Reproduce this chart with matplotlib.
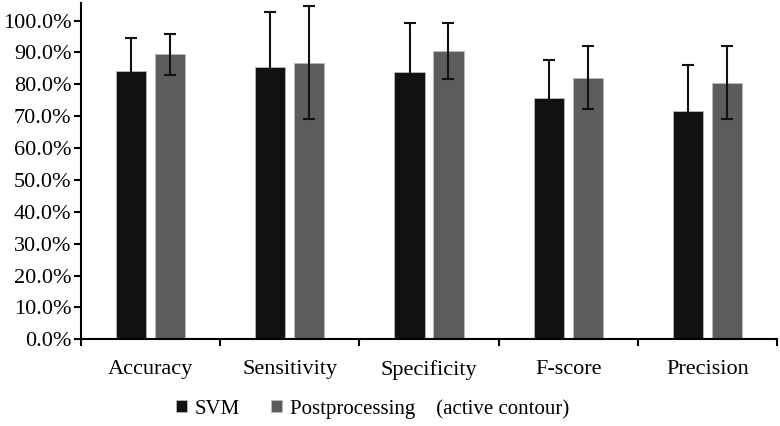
import matplotlib.pyplot as plt
import numpy as np
from matplotlib.patches import Patch
from matplotlib.ticker import PercentFormatter

categories = ["Accuracy", "Sensitivity", "Specificity", "F-score", "Precision"]
svm = [0.841, 0.853, 0.837, 0.758, 0.717]
svm_err = [0.103, 0.175, 0.155, 0.119, 0.145]
post = [0.894, 0.868, 0.905, 0.821, 0.805]
post_err = [0.065, 0.177, 0.088, 0.099, 0.115]
series_names = ["SVM", "Postprocessing    (active contour)"]

plt.rcParams['font.family'] = ['Liberation Serif', 'DejaVu Serif']

fig = plt.figure(figsize=(7.8, 4.26), dpi=100)
ax = fig.add_axes([0.104, 0.2035, 0.892, 0.7895])

x = np.arange(len(categories))
w = 0.216
off = 0.14
ekw = dict(ecolor="#111111", elinewidth=1.5, capsize=4, capthick=1.5)
ax.bar(x - off, svm, w, color="#111111", edgecolor="#bbbbbb", linewidth=0.6,
       yerr=svm_err, error_kw=ekw)
ax.bar(x + off, post, w, color="#5c5c5c", edgecolor="#bbbbbb", linewidth=0.6,
       yerr=post_err, error_kw=ekw)

ax.set_xlim(-0.5, len(categories) - 0.5)
ax.set_ylim(0, 1.055)
ax.set_yticks(np.arange(0, 1.01, 0.1))
ax.yaxis.set_major_formatter(PercentFormatter(1.0, decimals=1))
ax.set_xticks(np.arange(-0.5, len(categories), 1.0))
ax.set_xticklabels([])
ax.set_xticks(x, minor=True)
ax.set_xticklabels(categories, minor=True)
ax.tick_params(axis="x", which="minor", length=0, pad=15, labelsize=16)
ax.tick_params(axis="x", which="major", length=5, width=1.5, direction="out")
ax.tick_params(axis="y", length=5, width=1.5, direction="out", labelsize=16, pad=2)
for s in ["top", "right"]:
    ax.spines[s].set_visible(False)
for s in ["left", "bottom"]:
    ax.spines[s].set_linewidth(1.5)

handles = [Patch(facecolor="#111111", edgecolor="#bbbbbb", linewidth=0.6),
           Patch(facecolor="#5c5c5c", edgecolor="#bbbbbb", linewidth=0.6)]
fig.legend(handles, series_names, loc="center", bbox_to_anchor=(0.478, 0.04),
           ncol=2, frameon=False, fontsize=15, handlelength=0.5, handleheight=0.5,
           handletextpad=0.4, columnspacing=1.5)

fig.savefig("out.png", dpi=100)
